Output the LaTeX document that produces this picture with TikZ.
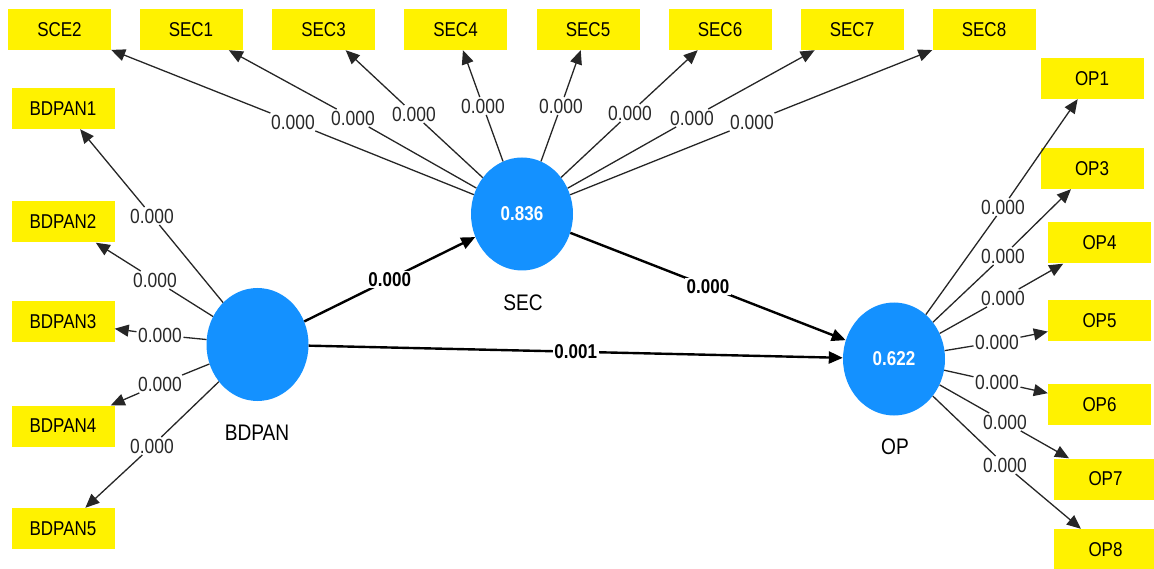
\documentclass[tikz,border=0pt]{standalone}
\usepackage{fontspec}
\setmainfont{Liberation Sans}
\newfontfamily\nar[FakeStretch=0.85]{Liberation Sans}
\usetikzlibrary{shapes.geometric,arrows.meta}
\definecolor{lvblue}{RGB}{20,145,255}
\definecolor{labgray}{RGB}{40,40,40}
\begin{document}
\begin{tikzpicture}[x=1pt,y=-1pt,
  ind/.style={fill=yellow, minimum width=103pt, minimum height=41pt, inner sep=0pt,
    text=black, font=\nar\fontsize{20}{24}\selectfont},
  lv/.style={ellipse, fill=lvblue, minimum width=102pt, minimum height=113pt, inner sep=0pt,
    text=white, font=\nar\bfseries\fontsize{20}{24}\selectfont},
  lvname/.style={text=black, font=\nar\fontsize{22.5}{26}\selectfont},
  ld/.style={inner sep=1.5pt, text=labgray, font=\nar\fontsize{20.5}{24}\selectfont},
  plab/.style={fill=white, inner sep=1.5pt, text=black, font=\nar\bfseries\fontsize{20}{24}\selectfont},
  ln/.style={draw=black!85, line width=1.3pt},
  arr/.style={ln, -{Triangle[length=14pt,width=12pt]}},
  inner/.style={draw=black, line width=2.4pt, -{Triangle[length=14pt,width=12pt]}}
]
\useasboundingbox (0,0) rectangle (1154,569);
% indicators: SEC
\node[ind] (sce2) at (59.5,29.5) {SCE2};
\node[ind] (sec1) at (191,29.5) {SEC1};
\node[ind] (sec3) at (323.5,29.5) {SEC3};
\node[ind] (sec4) at (455.5,29.5) {SEC4};
\node[ind] (sec5) at (588,29.5) {SEC5};
\node[ind] (sec6) at (720,29.5) {SEC6};
\node[ind] (sec7) at (852,29.5) {SEC7};
\node[ind] (sec8) at (984,29.5) {SEC8};
% indicators: BDPAN
\node[ind] (b1) at (63,108.5) {BDPAN1};
\node[ind] (b2) at (63,222) {BDPAN2};
\node[ind] (b3) at (63,321.5) {BDPAN3};
\node[ind] (b4) at (63,426) {BDPAN4};
\node[ind] (b5) at (63,528.5) {BDPAN5};
% indicators: OP
\node[ind] (op1) at (1092,78.5) {OP1};
\node[ind] (op3) at (1092,168.5) {OP3};
\node[ind] (op4) at (1099.5,243) {OP4};
\node[ind] (op5) at (1099.5,321) {OP5};
\node[ind] (op6) at (1099.5,404.5) {OP6};
\node[ind] (op7) at (1105.5,479) {OP7};
\node[ind] (op8) at (1105.5,549.5) {OP8};
% latent variables
\node[lv] (bdpan) at (257.5,344.5) {};
\node[lv] (sec) at (522,214) {0.836};
\node[lv] (op) at (894,359) {0.622};
\node[lvname] (bdpanname) at (257,433) {BDPAN};
\node[lvname] (secname) at (523,303) {SEC};
\node[lvname] (opname) at (895,447) {OP};
% SEC loadings
\node[ld] (lsce2) at (293,122) {0.000};
\node[ld] (lsec1) at (353,118) {0.000};
\node[ld] (lsec3) at (414,114) {0.000};
\node[ld] (lsec4) at (483,106) {0.000};
\node[ld] (lsec5) at (561,106) {0.000};
\node[ld] (lsec6) at (630,113) {0.000};
\node[ld] (lsec7) at (692,118) {0.000};
\node[ld] (lsec8) at (752,122) {0.000};
\foreach \l/\t in {lsce2/sce2,lsec1/sec1,lsec3/sec3,lsec4/sec4,lsec5/sec5,lsec6/sec6,lsec7/sec7,lsec8/sec8}{
  \draw[ln] (sec) -- (\l);
  \draw[arr] (\l) -- (\t);
}
% BDPAN loadings
\node[ld] (lb1) at (152,216) {0.000};
\node[ld] (lb2) at (155,280) {0.000};
\node[ld] (lb3) at (160,335) {0.000};
\node[ld] (lb4) at (160,384) {0.000};
\node[ld] (lb5) at (152,446) {0.000};
\foreach \l/\t in {lb1/b1,lb2/b2,lb3/b3,lb4/b4,lb5/b5}{
  \draw[ln] (bdpan) -- (\l);
  \draw[arr] (\l) -- (\t);
}
% OP loadings
\node[ld] (lo1) at (1003,207) {0.000};
\node[ld] (lo3) at (1003,256) {0.000};
\node[ld] (lo4) at (1003,298) {0.000};
\node[ld] (lo5) at (997,342) {0.000};
\node[ld] (lo6) at (997,382) {0.000};
\node[ld] (lo7) at (1005,422) {0.000};
\node[ld] (lo8) at (1005,465) {0.000};
\foreach \l/\t in {lo1/op1,lo3/op3,lo4/op4,lo5/op5,lo6/op6,lo7/op7,lo8/op8}{
  \draw[ln] (op) -- (\l);
  \draw[arr] (\l) -- (\t);
}
% structural paths
\draw[inner] (bdpan) -- node[plab] (p1) {0.000} (sec);
\draw[inner] (sec) -- node[plab] (p2) {0.000} (op);
\draw[inner] (bdpan) -- node[plab] (p3) {0.001} (op);
\end{tikzpicture}
\end{document}
